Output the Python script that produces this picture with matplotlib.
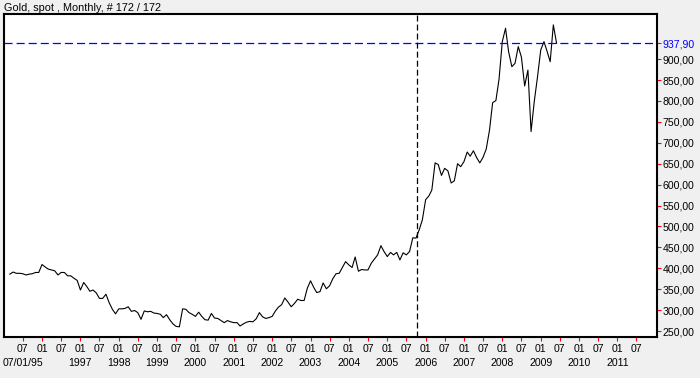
import pandas as pd
import matplotlib
matplotlib.use('Agg')
import matplotlib.pyplot as plt

# Gold spot, monthly closes, Mar 1995 .. Jun 2009 (172 points)
start = '1995-03-01'
prices = [
    386, 391, 388, 388, 387, 384, 386, 387, 390, 390,
    409, 403, 398, 396, 394, 384, 390, 390, 382, 382,
    376, 371, 348, 366, 357, 345, 348, 341, 328, 328,
    338, 318, 302, 291, 303, 303, 304, 308, 297, 299,
    294, 278, 298, 296, 297, 293, 292, 290, 282, 289,
    277, 267, 261, 260, 303, 302, 294, 290, 285, 295,
    285, 277, 276, 292, 281, 280, 275, 270, 275, 272,
    270, 270, 262, 267, 271, 273, 272, 279, 294, 284,
    280, 282, 285, 298, 307, 313, 329, 319, 308, 316,
    326, 323, 323, 352, 370, 354, 342, 344, 365, 351,
    358, 375, 387, 388, 402, 416, 408, 402, 427, 393,
    397, 396, 396, 412, 422, 432, 454, 440, 428, 438,
    432, 438, 420, 437, 432, 440, 473, 472, 492, 516,
    564, 573, 587, 652, 648, 622, 639, 633, 604, 609,
    650, 643, 655, 678, 668, 681, 665, 652, 665, 685,
    730, 796, 801, 852, 942, 974, 918, 882, 890, 930,
    905, 836, 874, 727, 800, 857, 922, 942, 920, 894,
    982, 937.9,
]
last_price = 937.90
marker_date = '2005-10-13'

y_ticks = [250, 300, 350, 400, 450, 500, 550, 600, 650, 700, 750, 800, 850, 900]

tick_dates = pd.date_range('1995-07-01', '2011-07-01', freq='6MS')
month_labels = [d.strftime('%m') for d in tick_dates]
# second row: start date, then the years from 1997 on
year_dates = [tick_dates[0]] + [d for d in tick_dates if d.month == 1 and d.year > 1996]
year_labels = ['07/01/95'] + [str(d.year) for d in year_dates[1:]]

plt.rcParams['font.family'] = ['Liberation Sans', 'DejaVu Sans']
plt.rcParams['lines.scale_dashes'] = False

fig = plt.figure(figsize=(7, 3.78), dpi=100, facecolor='#f0f0f0')
ax = fig.add_axes([4.3 / 700, 1 - 336.7 / 378, 653 / 700, 322.4 / 378])

dates = pd.date_range(start, periods=len(prices), freq='MS').to_pydatetime()
ax.plot(dates, prices, color='black', lw=0.8)
ax.axhline(last_price, color='#0000ff', lw=0.9, dashes=(5.8, 2.9))
ax.axvline(pd.Timestamp(marker_date), color='black', lw=0.9, dashes=(4.3, 2.2))

ax.set_xlim(pd.Timestamp('1995-01-07'), pd.Timestamp('2012-01-16'))
ax.set_ylim(236.4, 1007.3)

ax.yaxis.tick_right()
ax.set_yticks(y_ticks + [last_price])
ax.set_yticklabels([f'{v:.2f}'.replace('.', ',') for v in y_ticks + [last_price]])
ax.get_yticklabels()[-1].set_color('#0000ff')
ax.set_xticks(list(tick_dates.to_pydatetime()))
ax.set_xticklabels(month_labels)
ax.tick_params(axis='both', color='red', length=3, width=0.8, labelsize=7.6)
ax.tick_params(axis='x', pad=2)
ax.tick_params(axis='y', pad=1)

for d, lab in zip(year_dates, year_labels):
    ax.text(d.to_pydatetime(), -(362.5 - 336.7) / 322.4, lab,
            transform=ax.get_xaxis_transform(), ha='center', va='center',
            fontsize=7.6)

for s in ax.spines.values():
    s.set_linewidth(1.5)

fig.text(4 / 700, 1 - 11 / 378, 'Gold, spot , Monthly, # 172 / 172',
         fontsize=7.8, ha='left', va='baseline')

fig.savefig('out.png', dpi=100, facecolor=fig.get_facecolor())
